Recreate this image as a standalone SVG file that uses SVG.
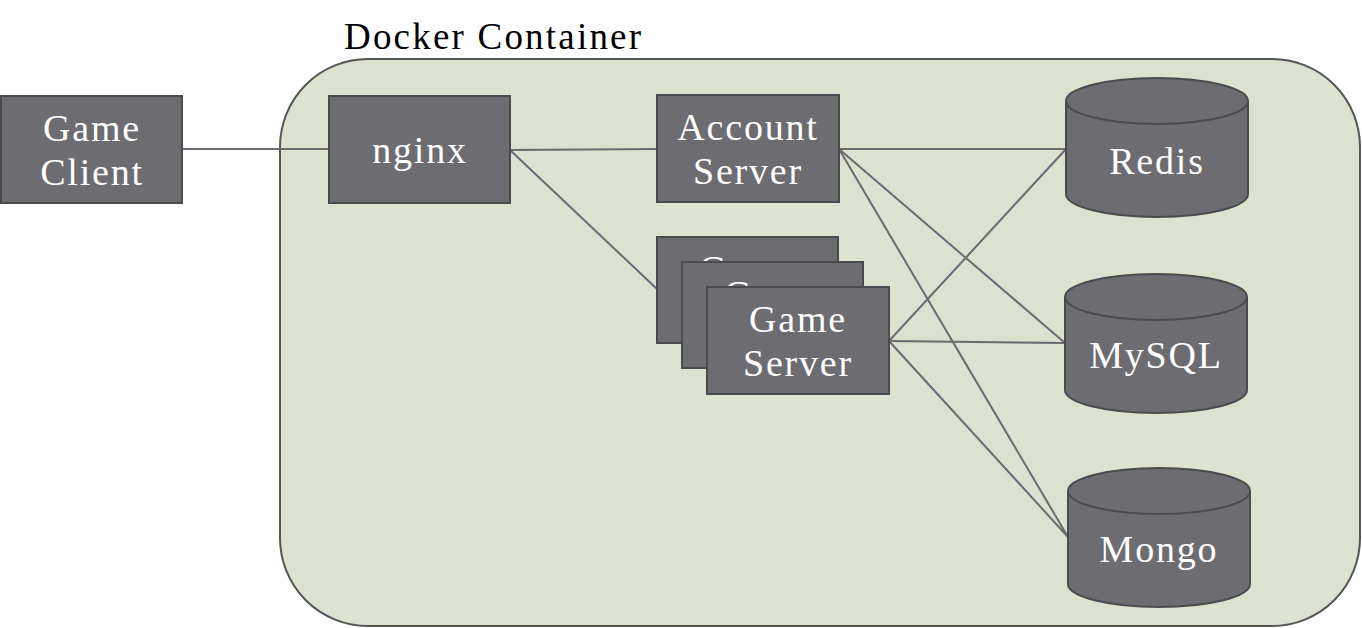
<svg xmlns="http://www.w3.org/2000/svg" width="1362" height="628" viewBox="0 0 1362 628" font-family="Liberation Serif, serif">
<style>
.box{fill:#6d6c71;stroke:#4b4b4d;stroke-width:2}
.lbl{font-family:'Liberation Serif',serif;font-size:38px;fill:#ffffff;text-anchor:middle;letter-spacing:1.8px}
.ttl{font-family:'Liberation Serif',serif;font-size:37px;fill:#000000;letter-spacing:2.2px}
.cn{stroke:#6b6b6f;stroke-width:2;fill:none}
</style>
<rect width="1362" height="628" fill="#ffffff"/>
<g id="docker-container">
<rect x="280" y="59" width="1080" height="567" rx="88" ry="88" fill="#dbe2d0" stroke="#555555" stroke-width="2"/>
<text class="ttl" x="344" y="49">Docker Container</text>
</g>
<g id="connectors">
<line class="cn" x1="182" y1="149" x2="329" y2="149"/>
<line class="cn" x1="510" y1="150" x2="657" y2="149"/>
<line class="cn" x1="510" y1="150" x2="657" y2="289"/>
<line class="cn" x1="839" y1="149" x2="1066" y2="149"/>
<line class="cn" x1="839" y1="149" x2="1065" y2="343"/>
<line class="cn" x1="839" y1="149" x2="1068" y2="537"/>
<line class="cn" x1="889" y1="341" x2="1066" y2="149"/>
<line class="cn" x1="889" y1="341" x2="1065" y2="343"/>
<line class="cn" x1="889" y1="341" x2="1068" y2="537"/>
</g>
<g id="game-client">
<rect class="box" x="1" y="96" width="181" height="107"/>
<text class="lbl" x="92" y="141">Game</text>
<text class="lbl" x="92" y="185">Client</text>
</g>
<g id="nginx">
<rect class="box" x="329" y="96" width="181" height="107"/>
<text class="lbl" x="420" y="163">nginx</text>
</g>
<g id="account-server">
<rect class="box" x="657" y="95" width="182" height="107"/>
<text class="lbl" x="748" y="140">Account</text>
<text class="lbl" x="748" y="184">Server</text>
</g>
<g id="game-server-3">
<rect class="box" x="657" y="237" width="181" height="106"/>
<text class="lbl" x="748" y="282">Game</text>
<text class="lbl" x="748" y="326">Server</text>
</g>
<g id="game-server-2">
<rect class="box" x="682" y="262" width="181" height="106"/>
<text class="lbl" x="773" y="307">Game</text>
<text class="lbl" x="773" y="351">Server</text>
</g>
<g id="game-server">
<rect class="box" x="707" y="287" width="182" height="107"/>
<text class="lbl" x="798" y="332">Game</text>
<text class="lbl" x="798" y="376">Server</text>
</g>
<g id="redis">
<path class="box" d="M1066,101 A91,23 0 0 1 1248,101 L1248,194 A91,23 0 0 1 1066,194 Z"/>
<path class="box" fill="none" d="M1066,101 A91,23 0 0 0 1248,101"/>
<text class="lbl" x="1157" y="174">Redis</text>
</g>
<g id="mysql">
<path class="box" d="M1065,297 A91,23 0 0 1 1247,297 L1247,390 A91,23 0 0 1 1065,390 Z"/>
<path class="box" fill="none" d="M1065,297 A91,23 0 0 0 1247,297"/>
<text class="lbl" x="1156" y="368">MySQL</text>
</g>
<g id="mongo">
<path class="box" d="M1068,491 A91,23 0 0 1 1250,491 L1250,584 A91,23 0 0 1 1068,584 Z"/>
<path class="box" fill="none" d="M1068,491 A91,23 0 0 0 1250,491"/>
<text class="lbl" x="1159" y="562">Mongo</text>
</g>
</svg>
